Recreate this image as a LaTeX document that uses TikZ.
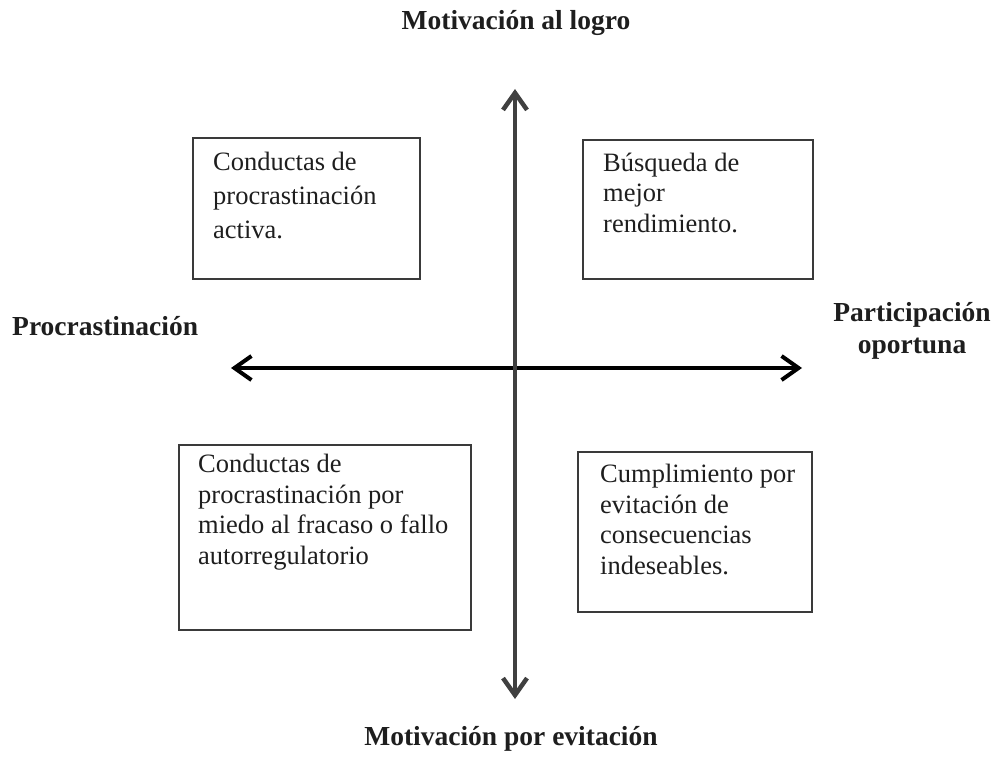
\documentclass[tikz,border=0pt]{standalone}
\usepackage{fontspec}
\setmainfont{Liberation Serif}
\usetikzlibrary{arrows.meta}
\definecolor{boxline}{HTML}{3A3A3A}
\definecolor{vaxis}{HTML}{404040}
\definecolor{txt}{HTML}{1E1E1E}
\tikzset{
  quad/.style={draw=boxline, line width=1.8pt, rectangle, inner sep=0pt},
  body/.style={anchor=base west, align=left, inner sep=0pt, text=txt,
    font=\fontsize{26.5}{#1}\selectfont},
  body/.default=30.5,
  axislabel/.style={inner sep=0pt, text=txt, align=center,
    font=\fontsize{27.5}{32}\selectfont\bfseries},
  axisarrow/.style={line width=4pt,
    {Straight Barb[length=17pt,width=24pt]}-{Straight Barb[length=17pt,width=24pt]}},
}
\begin{document}
\begin{tikzpicture}[x=1pt,y=-1pt]
\useasboundingbox (0,0) rectangle (995,757);
% axes
\coordinate (top) at (515,89);
\coordinate (bottom) at (515,699);
\coordinate (left) at (231,368);
\coordinate (right) at (802,368);
\draw[axisarrow, draw=black] (left) -- (right);
\draw[axisarrow, draw=vaxis, line width=4.5pt] (top) -- (bottom);
% boxes
\node[quad, minimum width=227pt, minimum height=141pt] (b1) at (306.5,208.5) {};
\node[quad, minimum width=230pt, minimum height=139pt] (b2) at (698,209.5) {};
\node[quad, minimum width=292pt, minimum height=185pt] (b3) at (325,537.5) {};
\node[quad, minimum width=234pt, minimum height=160pt] (b4) at (695,532) {};
% box texts (anchored at the baseline of the last line)
\node[body=34] (t1) at (213,238) {Conductas de\\procrastinación\\activa.};
\node[body] (t2) at (603,232) {Búsqueda de\\mejor\\rendimiento.};
\node[body] (t3) at (198,564) {Conductas de\\procrastinación por\\miedo al fracaso o fallo\\autorregulatorio};
\node[body] (t4) at (600,574) {Cumplimiento por\\evitación de\\consecuencias\\indeseables.};
% axis labels
\node[axislabel, anchor=base] (l1) at (516,30) {Motivación al logro};
\node[axislabel, anchor=base west] (l2) at (12,335) {Procrastinación};
\node[axislabel, anchor=base] (l3) at (912,353) {Participación\\oportuna};
\node[axislabel, anchor=base] (l4) at (511,745) {Motivación por evitación};
\end{tikzpicture}
\end{document}
